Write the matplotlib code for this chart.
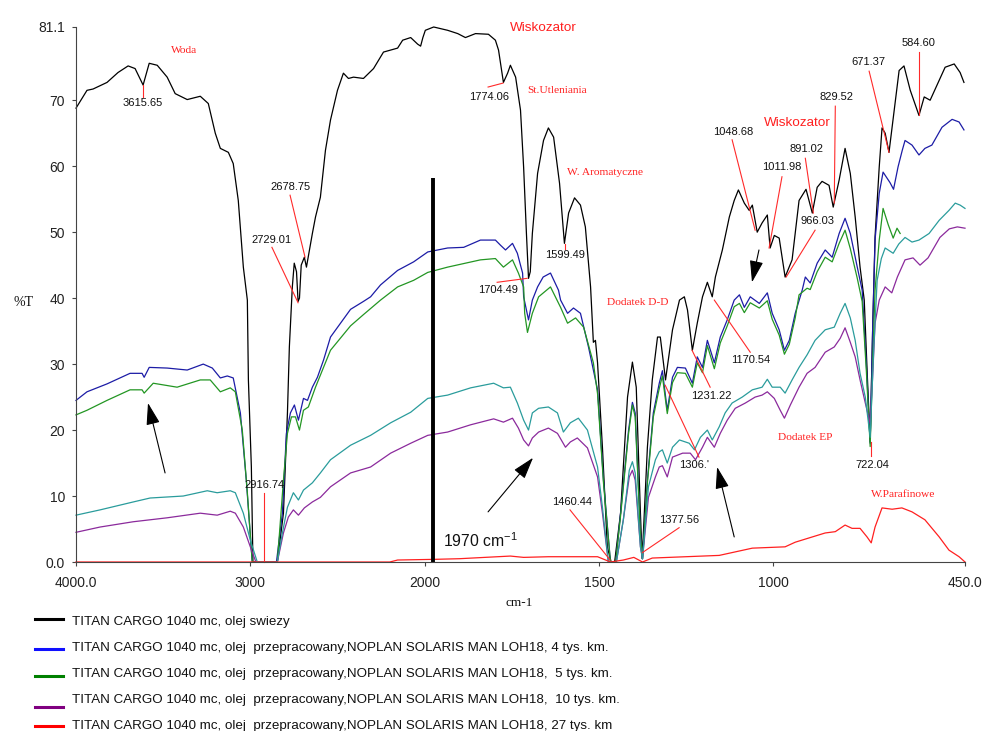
import numpy as np
import matplotlib
matplotlib.use("Agg")
import matplotlib.pyplot as plt
from matplotlib import font_manager
from matplotlib.ticker import NullLocator

# IR spectra: (wavenumber cm-1, %T)
fresh = [(4000, 68.8), (3937, 71.5), (3902, 71.7), (3822, 72.7), (3759, 74.2), (3701, 75.2),
         (3661, 74.8), (3615, 72.3), (3580, 75.6), (3534, 75.3), (3477, 73.5), (3431, 71.0),
         (3362, 70.1), (3287, 70.6), (3241, 69.5), (3201, 65.0), (3172, 62.7), (3126, 62.1),
         (3098, 60.4), (3069, 54.8), (3040, 44.7), (3017, 39.7), (3011, 27.6), (2994, 14.4),
         (2985, 0), (2845, 0), (2810, 7.4), (2787, 22.6), (2776, 32.6), (2759, 41.7),
         (2748, 45.3), (2735, 44.0), (2726, 39.5), (2718, 40.0), (2708, 45.0), (2690, 46.2),
         (2678, 44.7), (2644, 49.8), (2626, 52.3), (2598, 55.3), (2569, 62.4), (2540, 67.0),
         (2500, 71.5), (2466, 74.1), (2437, 73.3), (2408, 73.5), (2351, 73.3), (2293, 74.8),
         (2236, 77.3), (2155, 77.9), (2126, 79.1), (2080, 79.5), (2040, 78.5), (2023, 78.2),
         (2010, 79.5), (1998, 80.6), (1974, 81.1), (1934, 80.6), (1905, 80.1), (1883, 79.5),
         (1854, 80.1), (1817, 80.0), (1797, 79.1), (1788, 77.6), (1774, 72.7), (1762, 74.1),
         (1754, 75.3), (1739, 73.5), (1725, 68.5), (1716, 59.8), (1708, 49.8), (1702, 43.0),
         (1697, 44.0), (1691, 49.8), (1676, 58.9), (1659, 63.9), (1645, 65.8), (1630, 64.4),
         (1613, 57.4), (1599, 48.3), (1587, 52.9), (1570, 55.2), (1553, 54.1), (1539, 50.8),
         (1524, 41.7), (1516, 33.3), (1510, 33.6), (1504, 30.2), (1490, 17.4), (1476, 2.3),
         (1465, 0), (1455, 0), (1438, 7.4), (1418, 25.0), (1404, 30.3), (1393, 26.5),
         (1381, 7.4), (1376, 0.5), (1361, 17.4), (1347, 27.6), (1332, 34.1), (1324, 34.1),
         (1309, 27.6), (1289, 35.2), (1269, 39.7), (1255, 40.2), (1246, 38.2), (1232, 32.1),
         (1218, 36.2), (1203, 40.2), (1189, 42.4), (1175, 40.2), (1166, 43.2), (1146, 47.3),
         (1126, 52.3), (1112, 54.8), (1100, 56.4), (1083, 54.4), (1069, 53.3), (1060, 54.1),
         (1046, 50.0), (1032, 51.4), (1017, 52.6), (1009, 47.6), (997, 49.5), (983, 49.1),
         (966, 43.2), (946, 45.8), (926, 54.8), (906, 56.5), (888, 52.9), (874, 56.8),
         (860, 57.7), (840, 57.1), (828, 53.8), (811, 57.9), (794, 62.7), (779, 58.9),
         (765, 52.3), (751, 44.7), (739, 39.7), (730, 28.0), (722, 18.2), (715, 35.0),
         (708, 49.3), (696, 59.9), (688, 65.8), (679, 65.0), (668, 62.1), (653, 68.5),
         (639, 74.5), (625, 75.2), (607, 71.5), (582, 67.7), (567, 70.5), (550, 70.0),
         (524, 73.0), (507, 75.0), (481, 75.5), (464, 74.2), (453, 72.7)]

km4 = [(4000, 24.5), (3937, 25.8), (3822, 27.0), (3690, 28.6), (3621, 28.6), (3609, 28.0),
       (3580, 29.5), (3477, 29.4), (3362, 29.1), (3270, 30.0), (3218, 29.4), (3172, 27.9),
       (3132, 28.2), (3098, 27.9), (3057, 22.6), (3023, 12.4), (2989, 0), (2850, 0),
       (2816, 7.4), (2793, 19.5), (2770, 22.6), (2747, 23.8), (2724, 21.5), (2695, 24.8),
       (2672, 24.5), (2644, 26.5), (2615, 28.0), (2580, 30.6), (2540, 34.1), (2425, 38.3),
       (2351, 39.5), (2310, 40.2), (2253, 42.0), (2155, 44.2), (2063, 45.5), (1991, 47.0),
       (1934, 47.6), (1888, 47.7), (1840, 48.8), (1797, 48.8), (1782, 48.0), (1768, 47.3),
       (1748, 48.3), (1734, 46.8), (1719, 43.8), (1716, 40.2), (1702, 36.7), (1691, 39.7),
       (1676, 41.7), (1660, 43.2), (1639, 43.8), (1616, 41.2), (1610, 39.7), (1590, 37.7),
       (1573, 38.5), (1553, 37.7), (1530, 32.6), (1504, 26.1), (1487, 12.4), (1467, 0),
       (1452, 0), (1438, 7.4), (1415, 20.0), (1404, 24.2), (1396, 22.6), (1381, 4.4),
       (1375, 0.5), (1361, 12.4), (1344, 22.6), (1327, 27.1), (1318, 29.0), (1304, 23.0),
       (1289, 28.0), (1275, 29.5), (1252, 29.4), (1232, 27.1), (1218, 31.1), (1203, 29.5),
       (1189, 33.6), (1169, 30.2), (1152, 34.1), (1132, 36.7), (1112, 39.7), (1097, 40.5),
       (1083, 38.6), (1066, 40.2), (1040, 39.2), (1017, 40.8), (1003, 37.7), (983, 35.2),
       (968, 32.1), (954, 33.6), (937, 37.7), (917, 41.2), (908, 43.2), (894, 42.3),
       (874, 45.3), (851, 47.3), (831, 46.2), (811, 49.8), (794, 52.1), (779, 49.8),
       (759, 44.7), (745, 41.2), (733, 30.0), (722, 18.0), (715, 35.0), (708, 48.8),
       (696, 55.9), (685, 59.1), (665, 57.5), (655, 56.5), (642, 59.9), (630, 62.4),
       (622, 63.9), (602, 63.2), (582, 61.7), (565, 62.7), (545, 63.2), (516, 65.9),
       (487, 67.1), (467, 66.7), (453, 65.5)]

km5 = [(4000, 22.3), (3937, 23.0), (3822, 24.5), (3690, 26.1), (3621, 26.1), (3609, 25.6),
       (3557, 27.1), (3420, 26.5), (3287, 27.6), (3230, 27.6), (3172, 25.8), (3115, 26.4),
       (3086, 25.8), (3046, 20.0), (3017, 10.5), (2989, 0), (2845, 0), (2810, 12.4),
       (2787, 19.5), (2764, 22.0), (2741, 22.0), (2718, 20.0), (2695, 23.0), (2667, 23.5),
       (2626, 26.5), (2580, 29.5), (2540, 32.1), (2425, 35.8), (2351, 37.5), (2253, 39.7),
       (2155, 41.7), (2063, 42.7), (1991, 43.9), (1934, 44.7), (1840, 45.8), (1797, 46.0),
       (1774, 44.7), (1748, 45.8), (1731, 43.8), (1716, 41.7), (1713, 37.7), (1705, 34.8),
       (1691, 37.7), (1673, 40.2), (1639, 41.7), (1610, 38.6), (1590, 36.2), (1567, 37.0),
       (1544, 35.6), (1516, 30.2), (1504, 25.5), (1487, 12.0), (1467, 0), (1452, 0),
       (1438, 7.0), (1415, 19.5), (1404, 23.8), (1396, 22.0), (1381, 4.0), (1375, 0.5),
       (1361, 12.0), (1344, 22.0), (1327, 26.3), (1318, 28.2), (1304, 22.5), (1289, 27.2),
       (1275, 28.7), (1252, 28.6), (1232, 26.5), (1218, 30.2), (1203, 28.7), (1189, 32.8),
       (1169, 29.3), (1152, 33.2), (1132, 35.8), (1112, 38.7), (1097, 39.2), (1083, 37.8),
       (1066, 39.3), (1040, 38.5), (1017, 39.6), (1003, 36.8), (983, 34.4), (968, 31.5),
       (954, 33.0), (937, 37.0), (926, 40.5), (903, 41.5), (894, 41.3), (874, 44.0),
       (851, 46.2), (831, 45.5), (811, 48.3), (794, 50.3), (779, 47.5), (759, 43.0),
       (745, 39.5), (733, 29.0), (722, 17.5), (715, 30.0), (708, 41.2), (696, 48.8),
       (685, 53.6), (670, 51.1), (656, 49.1), (645, 50.6), (636, 49.8)]

km10 = [(4000, 4.5), (3862, 5.3), (3672, 6.1), (3477, 6.7), (3287, 7.4), (3190, 7.1),
        (3115, 7.7), (3086, 7.4), (3040, 5.3), (3000, 2.3), (2968, 0), (2845, 0),
        (2810, 4.4), (2782, 6.8), (2753, 7.9), (2724, 7.1), (2690, 8.2), (2644, 9.1),
        (2598, 9.8), (2540, 11.4), (2425, 13.5), (2310, 14.4), (2195, 16.5), (2080, 18.0),
        (1991, 19.2), (1934, 19.7), (1868, 20.8), (1802, 21.7), (1774, 21.2), (1748, 21.8),
        (1731, 20.3), (1716, 18.5), (1702, 17.6), (1691, 18.8), (1673, 19.7), (1645, 20.3),
        (1619, 19.5), (1596, 17.4), (1582, 18.2), (1562, 18.8), (1533, 17.3), (1504, 12.9),
        (1490, 7.4), (1473, 0), (1450, 0), (1430, 6.4), (1413, 12.9), (1404, 13.9),
        (1396, 12.4), (1381, 2.3), (1375, 0.5), (1358, 9.8), (1338, 12.9), (1327, 14.4),
        (1318, 14.6), (1304, 12.9), (1289, 15.9), (1260, 16.5), (1238, 16.5), (1223, 15.5),
        (1203, 17.4), (1189, 18.9), (1169, 17.4), (1152, 19.5), (1132, 21.5), (1109, 23.3),
        (1080, 24.1), (1052, 25.0), (1032, 25.3), (1017, 25.8), (997, 24.8), (980, 23.0),
        (968, 21.8), (951, 23.8), (926, 26.5), (903, 28.6), (880, 29.5), (851, 31.8),
        (825, 32.6), (808, 33.9), (794, 35.5), (779, 33.3), (765, 31.1), (751, 27.6),
        (736, 24.1), (722, 21.0), (715, 28.0), (708, 36.2), (696, 39.7), (679, 41.7),
        (660, 40.8), (644, 43.2), (622, 45.8), (599, 46.1), (579, 45.0), (556, 46.1),
        (522, 49.2), (495, 50.5), (472, 50.8), (450, 50.6)]

# teal trace (not listed in the legend)
extra = [(4000, 7.1), (3862, 7.9), (3672, 9.1), (3575, 9.7), (3385, 10.0), (3247, 10.8),
         (3190, 10.5), (3115, 10.8), (3086, 10.5), (3040, 7.4), (3000, 3.3), (2960, 0),
         (2845, 0), (2816, 4.4), (2787, 8.3), (2753, 10.5), (2724, 9.4), (2695, 10.9),
         (2644, 12.0), (2598, 13.5), (2540, 15.5), (2425, 17.7), (2310, 19.2), (2195, 21.1),
         (2080, 22.7), (1991, 24.8), (1934, 25.3), (1868, 26.4), (1802, 27.1), (1774, 26.4),
         (1754, 26.5), (1734, 24.1), (1716, 21.5), (1702, 20.0), (1691, 22.6), (1673, 23.3),
         (1645, 23.5), (1619, 22.6), (1602, 19.7), (1582, 21.1), (1559, 21.8), (1533, 20.0),
         (1504, 14.4), (1490, 8.3), (1473, 0), (1450, 0), (1430, 6.4), (1413, 13.9),
         (1404, 15.2), (1396, 13.5), (1381, 2.3), (1375, 0.5), (1358, 11.4), (1338, 15.5),
         (1327, 16.7), (1318, 17.0), (1304, 15.0), (1289, 17.4), (1269, 18.5), (1241, 18.0),
         (1226, 17.0), (1209, 18.9), (1189, 20.0), (1175, 18.5), (1155, 20.5), (1138, 22.6),
         (1118, 24.1), (1089, 25.0), (1060, 26.1), (1032, 26.5), (1017, 27.7), (1003, 26.5),
         (980, 26.5), (966, 25.6), (946, 27.6), (926, 29.5), (903, 31.4), (880, 33.6),
         (851, 35.2), (825, 35.6), (808, 37.7), (794, 39.2), (779, 37.0), (765, 33.6),
         (751, 28.6), (736, 25.0), (722, 18.9), (712, 32.0), (702, 42.7), (690, 46.0),
         (679, 47.6), (656, 46.8), (640, 48.2), (622, 49.2), (602, 48.5), (582, 48.8),
         (553, 49.8), (524, 51.8), (496, 53.3), (478, 54.4), (464, 54.1), (450, 53.6)]

km27 = [(4000, 0), (2200, 0), (2155, 0.3), (1974, 0.4), (1900, 0.5), (1791, 0.8),
        (1754, 0.9), (1716, 0.7), (1645, 0.8), (1504, 0.8), (1467, 0), (1430, 0.3),
        (1400, 0.7), (1375, 0), (1347, 0.6), (1155, 1.0), (1060, 2.1), (966, 2.3),
        (937, 3.0), (888, 3.8), (851, 4.4), (822, 4.6), (794, 5.6), (774, 5.1), (751, 5.1),
        (731, 3.8), (719, 2.9), (708, 5.3), (688, 8.2), (659, 8.0), (631, 8.2), (602, 7.6),
        (565, 6.4), (524, 3.8), (496, 1.8), (467, 0.8), (450, 0)]

legend_labels = [
    "TITAN CARGO 1040 mc, olej swiezy",
    "TITAN CARGO 1040 mc, olej  przepracowany,NOPLAN SOLARIS MAN LOH18, 4 tys. km.",
    "TITAN CARGO 1040 mc, olej  przepracowany,NOPLAN SOLARIS MAN LOH18,  5 tys. km.",
    "TITAN CARGO 1040 mc, olej  przepracowany,NOPLAN SOLARIS MAN LOH18,  10 tys. km.",
    "TITAN CARGO 1040 mc, olej  przepracowany,NOPLAN SOLARIS MAN LOH18, 27 tys. km",
]

xticks = [4000, 3000, 2000, 1500, 1000, 450]
xtick_labels = ["4000.0", "3000", "2000", "1500", "1000", "450.0"]
yticks = [0, 10, 20, 30, 40, 50, 60, 70, 81.1]
ytick_labels = ["0.0", "10", "20", "30", "40", "50", "60", "70", "81.1"]

# peak labels: text, wavenumber, %T
peak_labels = [("3615.65", 3616, 69.6), ("2678.75", 2767, 56.8), ("2729.01", 2876, 48.8),
               ("2916.74", 2921, 11.7), ("1774.06", 1815, 70.5), ("1599.49", 1597, 46.5),
               ("1704.49", 1789, 41.2), ("1460.44", 1577, 9.1), ("1377.56", 1270, 6.4),
               ("1306.'", 1227, 14.7), ("1231.22", 1178, 25.2), ("1170.54", 1066, 30.6),
               ("722.04", 716, 14.7), ("1048.68", 1115, 65.2), ("1011.98", 975, 59.9),
               ("891.02", 906, 62.6), ("966.03", 874, 51.7), ("829.52", 820, 70.5),
               ("671.37", 728, 75.8), ("584.60", 582, 78.7)]
leaders = [((3616, 72.3), (3616, 70.5)), ((2772, 55.6), (2686, 46.2)),
           ((2876, 47.7), (2726, 39.3)), ((2921, 10.5), (2921, 0)),
           ((1818, 72.0), (1775, 72.6)), ((1597, 48.2), (1597, 47.4)),
           ((1792, 42.4), (1706, 43.0)), ((1583, 7.9), (1468, 0.3)),
           ((1270, 5.2), (1376, 1.4)), ((1213, 15.9), (1310, 26.8)),
           ((1181, 26.5), (1233, 32.1)), ((1066, 31.8), (1169, 39.7)),
           ((719, 18.2), (719, 16.0)), ((1118, 64.0), (1052, 50.3)),
           ((975, 58.4), (1012, 47.6)), ((908, 61.2), (885, 52.9)),
           ((880, 50.3), (963, 43.2)), ((822, 69.1), (825, 54.4)),
           ((725, 74.4), (668, 62.1)), ((582, 77.3), (582, 67.7))]
groups_serif = [("Woda", 3380, 77.6), ("St.Utleniania", 1620, 71.4),
                ("W. Aromatyczne", 1483, 59.0), ("Dodatek D-D", 1388, 39.3),
                ("Dodatek EP", 908, 18.8), ("W.Parafinowe", 627, 10.2)]
groups_sans = [("Wiskozator", 1660, 80.9), ("Wiskozator", 932, 66.5)]
arrows = [((3489, 13.5), (3587, 24.1)), ((1818, 7.6), (1689, 15.8)),
          ((1112, 3.8), (1161, 14.4)), ((1041, 47.3), (1061, 42.4))]
marker_w, marker_top = 1975, 58.2


def fwd(w):
    w = np.asarray(w, dtype=float)
    return np.where(w >= 2000, w, 2 * w - 2000)


def inv(u):
    u = np.asarray(u, dtype=float)
    return np.where(u >= 2000, u, (u + 2000) / 2)


def have_font(name):
    try:
        font_manager.findfont(name, fallback_to_default=False)
        return True
    except Exception:
        return False


SANS = "Liberation Sans"
SERIF = "Liberation Serif"
if have_font("Liberation Sans Narrow"):
    NUM, NUM_SIZE = "Liberation Sans Narrow", 9.6
else:
    NUM, NUM_SIZE = SANS, 8.0
plt.rcParams["font.family"] = SANS
plt.rcParams["mathtext.default"] = "regular"

fig = plt.figure(figsize=(9.82, 7.31), dpi=100)
ax = fig.add_axes([76 / 982, 1 - 562 / 731, 889 / 982, 535 / 731])
ax.set_xscale("function", functions=(fwd, inv))

series = [(fresh, "#000000"), (km4, "#1c1ca6"), (km5, "#239623"),
          (km10, "#8b2a9c"), (extra, "#2a9c9c"), (km27, "#ff2020")]
for data, col in series:
    w, t = np.array(data).T
    ax.plot(w, t, color=col, lw=0.9, clip_on=False)

ax.vlines(marker_w, 0, marker_top, color="black", lw=2.8)

ax.set_xlim(4000, 450)
ax.set_ylim(0, 81.1)
ax.set_xticks(xticks)
ax.set_xticklabels(xtick_labels)
ax.xaxis.set_minor_locator(NullLocator())
ax.set_yticks(yticks)
ax.set_yticklabels(ytick_labels)
for s in ("top", "right"):
    ax.spines[s].set_visible(False)
for s in ("left", "bottom"):
    ax.spines[s].set_color("#444444")
ax.tick_params(axis="both", direction="out", length=3, width=0.8, colors="#444444",
               labelcolor="#222222", labelsize=10)
ax.tick_params(axis="x", pad=7)
ax.tick_params(axis="y", pad=5)

for (a, b) in leaders:
    ax.plot([a[0], b[0]], [a[1], b[1]], color="#ff2a2a", lw=0.8, clip_on=False)
for txt, w, t in peak_labels:
    ax.text(w, t, txt, family=NUM, fontsize=NUM_SIZE, color="#111111",
            ha="center", va="center", clip_on=False)
for txt, w, t in groups_serif:
    ax.text(w, t, txt, family=SERIF, fontsize=8.2, color="#ff2020",
            ha="center", va="center", clip_on=False)
for txt, w, t in groups_sans:
    ax.text(w, t, txt, family=SANS, fontsize=9.7, color="#ff2020",
            ha="center", va="center", clip_on=False)
for tail, tip in arrows:
    ax.annotate("", xy=tip, xytext=tail,
                arrowprops=dict(arrowstyle="-|>,head_length=0.9,head_width=0.28",
                                color="black", lw=0.8, mutation_scale=15,
                                shrinkA=0, shrinkB=0))
ax.text(1947, 2.3, "1970 cm$^{-1}$", fontsize=11.3, color="#111111",
        ha="left", va="baseline")

fig.text(23 / 982, 1 - 303 / 731, "%T", family=SERIF, fontsize=10,
         ha="center", va="center", color="#111111")
fig.text(519 / 982, 1 - 603 / 731, "cm-1", family=SERIF, fontsize=9.5,
         ha="center", va="center", color="#111111")

# legend block under the plot
leg_colors = ["#000000", "#1010ff", "#008000", "#800080", "#ff0000"]
line_shift = [-3, 1, 2, 7, 0]
for i, (lab, col) in enumerate(zip(legend_labels, leg_colors)):
    yc = 622 + 26 * i
    yl = 1 - (yc + line_shift[i]) / 731
    fig.add_artist(plt.Line2D([35 / 982, 63 / 982], [yl, yl], color=col, lw=2.2))
    fig.text(72 / 982, 1 - yc / 731, lab, fontsize=9.6, color="#111111",
             ha="left", va="center")

fig.savefig("out.png", dpi=100)
